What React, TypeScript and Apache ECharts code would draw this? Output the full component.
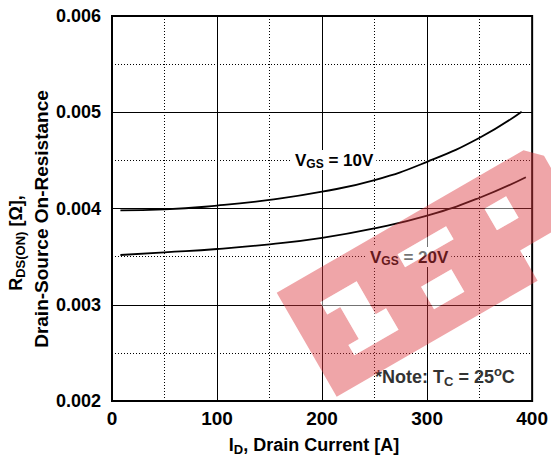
import React, { useEffect, useRef } from "react";
import * as echarts from "echarts";

// ---- data ----
const xTickValues = [0, 100, 200, 300, 400];
const yTickLabels = ["0.002", "0.003", "0.004", "0.005", "0.006"];
const currentVgs10 = [8, 50, 100, 150, 200, 250, 300, 350, 390];
const rdsVgs10 = [0.00398, 0.00399, 0.00403, 0.00409, 0.004175, 0.004295, 0.004485, 0.004735, 0.005006];
const currentVgs20 = [8, 50, 100, 150, 200, 250, 300, 350, 394];
const rdsVgs20 = [0.003517, 0.003545, 0.003579, 0.003628, 0.003695, 0.003794, 0.003925, 0.004112, 0.004325];

const FONT = '"Liberation Sans", Arial, Helvetica, sans-serif';

// ---- watermark shape (band with letter cut-outs), local coords (s along band, t up) ----
type Pt = [number, number];
const bandOuter: Pt[] = [
  [0, 0], [232, 0], [232, 35], [285, 35], [300, 50], [300, 105], [285, 120], [0, 120],
];
const rectPts = (s1: number, s2: number, t1: number, t2: number): Pt[] => [[s1, t1], [s2, t1], [s2, t2], [s1, t2]];
const wmHoles: Pt[][] = [
  [[33, 90], [75, 90], [75, 52], [87, 52], [87, 27], [36, 27], [36, 39], [48, 39], [48, 76], [33, 76]],
  rectPts(128, 163, 27, 53),
  rectPts(124, 180, 78, 93),
  rectPts(222, 247, 64, 89),
];

function ring(points: Pt[], positive: boolean): string {
  const p = points.map(([s, t]) => [s, -t]);
  let a = 0;
  for (let i = 0; i < p.length; i++) {
    const q = p[(i + 1) % p.length];
    a += p[i][0] * q[1] - q[0] * p[i][1];
  }
  const pts = (a > 0) === positive ? p : p.slice().reverse();
  return "M" + pts.map((q) => q[0] + " " + q[1]).join(" L") + " Z";
}

const bandPathD = ring(bandOuter, true) + " " + wmHoles.map((h) => ring(h, false)).join(" ");
const holesPathD = wmHoles.map((h) => ring(h, true)).join(" ");

echarts.graphic.registerShape("wmband", echarts.graphic.extendPath(bandPathD, {}) as any);
echarts.graphic.registerShape("wmholes", echarts.graphic.extendPath(holesPathD, {}) as any);

function richText(
  x: number,
  y: number,
  text: string,
  size: number,
  subSize: number,
  align: string,
  color: string,
  rotation = 0,
  bg?: string
) {
  const base = { fontSize: size, fontWeight: "bold", fontFamily: FONT, fill: color };
  const style: any = {
    text,
    fontSize: size,
    fontWeight: "bold",
    fontFamily: FONT,
    fill: color,
    align,
    verticalAlign: "middle",
    textAlign: align,
    textVerticalAlign: "middle",
    rich: {
      m: base,
      s: { fontSize: subSize, fontWeight: "bold", fontFamily: FONT, fill: color, padding: [8, 0, 0, 0] },
      p: { fontSize: subSize, fontWeight: "bold", fontFamily: FONT, fill: color, padding: [0, 0, 12, 0] },
    },
  };
  if (bg) {
    style.backgroundColor = bg;
    style.padding = [0, 3, 0, 3];
  }
  return { type: "text", x, y, rotation, z: 50, silent: true, style };
}

export default function App() {
  const ref = useRef<HTMLDivElement>(null);

  useEffect(() => {
    if (!ref.current) return;
    const chart = echarts.init(ref.current, undefined, { renderer: "svg" });

    const axisCommon = {
      splitLine: { show: true, lineStyle: { color: "#000", width: 1 } },
      minorTick: { show: false, splitNumber: 2 },
      minorSplitLine: { show: true, lineStyle: { color: "#000", width: 1, type: [1, 2] } },
      axisTick: { show: false },
      axisLine: { show: false },
    };

    chart.setOption({
      animation: false,
      backgroundColor: "#fff",
      grid: {
        left: 112,
        right: 15,
        top: 16,
        bottom: 58,
        show: true,
        borderColor: "#000",
        borderWidth: 2,
        backgroundColor: "transparent",
      },
      xAxis: {
        type: "value",
        min: xTickValues[0],
        max: xTickValues[xTickValues.length - 1],
        interval: 100,
        ...axisCommon,
        axisLabel: {
          color: "#000",
          fontSize: 19,
          fontWeight: "bold",
          fontFamily: FONT,
          margin: 8,
        },
      },
      yAxis: {
        type: "value",
        min: 0.002,
        max: 0.006,
        interval: 0.001,
        ...axisCommon,
        axisLabel: {
          color: "#000",
          fontSize: 18,
          fontWeight: "bold",
          fontFamily: FONT,
          margin: 11,
          formatter: (v: number) => {
            const s = v.toFixed(3);
            return yTickLabels.includes(s) ? s : "";
          },
        },
      },
      series: [
        {
          type: "line",
          name: "VGS = 10V",
          data: currentVgs10.map((x, i) => [x, rdsVgs10[i]]),
          smooth: 0.5,
          showSymbol: false,
          symbol: "none",
          lineStyle: { color: "#000", width: 1.8 },
          z: 3,
        },
        {
          type: "line",
          name: "VGS = 20V",
          data: currentVgs20.map((x, i) => [x, rdsVgs20[i]]),
          smooth: 0.5,
          showSymbol: false,
          symbol: "none",
          lineStyle: { color: "#000", width: 1.8 },
          z: 3,
        },
      ],
      graphic: {
        elements: [
          richText(292, 160, "{m|V}{s|GS}{m| = 10V}", 17, 12, "left", "#000", 0, "#fff"),
          richText(367, 257, "{m|V}{s|GS}{m| = 20V}", 17, 12, "left", "#000", 0, "#fff"),
          richText(375, 377, "{m|*Note: T}{s|C}{m| = 25}{p|o}{m|C}", 18, 13, "left", "#333"),
          richText(314, 445, "{m|I}{s|D}{m|, Drain Current [A]}", 18, 13, "center", "#000"),
          richText(16, 243, "{m|R}{s|DS(ON)}{m| [Ω],}", 18, 13, "center", "#000", Math.PI / 2),
          richText(41, 219, "{m|Drain-Source On-Resistance}", 19, 13, "center", "#000", Math.PI / 2),
          {
            type: "wmband",
            x: 336.7,
            y: 396.7,
            rotation: Math.PI / 6,
            z: 100,
            silent: true,
            style: { fill: "rgba(220,56,62,0.45)", stroke: "none" },
          },
          {
            type: "wmholes",
            x: 336.7,
            y: 396.7,
            rotation: Math.PI / 6,
            z: 100,
            silent: true,
            style: { fill: "rgba(255,255,255,0.45)", stroke: "none" },
          },
        ],
      },
    });

    return () => chart.dispose();
  }, []);

  return (
    <div
      ref={ref}
      style={{ position: "absolute", left: 0, top: 0, width: 551, height: 459, background: "#fff" }}
    />
  );
}
